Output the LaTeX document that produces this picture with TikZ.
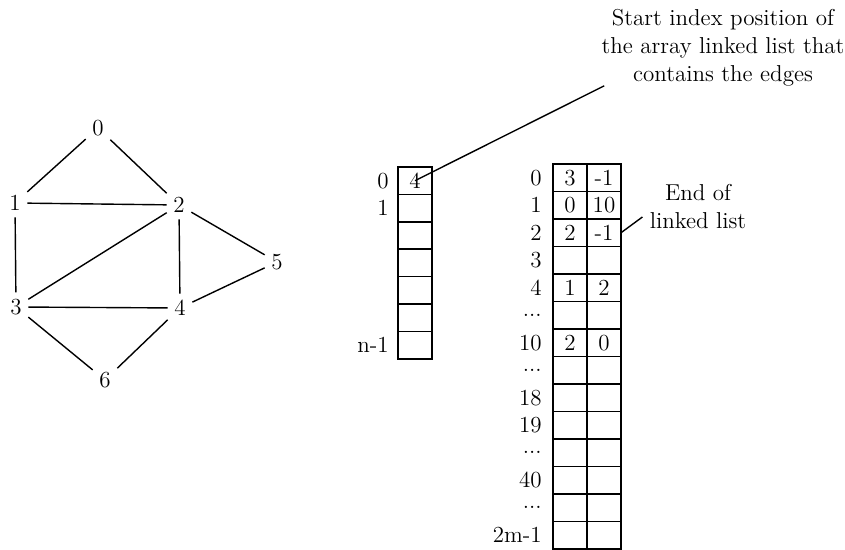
\documentclass[tikz,border=0pt]{standalone}
\usepackage{tikz}
\usetikzlibrary{positioning}
\newcommand{\skipdots}{...}

\begin{document}
\begin{tikzpicture}[
        x=0.5pt, y=-0.5pt, line width=0.7pt,
        every node/.style={font=\fontsize{11.5}{14}\selectfont},
        vertex/.style={inner sep=3pt},
        cell/.style={draw, minimum width=17pt, minimum height=13.75pt, inner sep=0pt, outer sep=0pt},
        note/.style={align=center}
    ]
    \useasboundingbox (0,0) rectangle (845,550);

    % graph
        \node[vertex] (v0) at (98,128) {0};
        \node[vertex] (v1) at (15,203) {1};
        \node[vertex] (v2) at (179,205) {2};
        \node[vertex] (v5) at (277,262) {5};
        \node[vertex] (v3) at (16,307) {3};
        \node[vertex] (v4) at (180,308) {4};
        \node[vertex] (v6) at (105,380) {6};

        \draw (v0) -- (v1);
        \draw (v0) -- (v2);
        \draw (v1) -- (v2);
        \draw (v1) -- (v3);
        \draw (v2) -- (v3);
        \draw (v2) -- (v4);
        \draw (v2) -- (v5);
        \draw (v3) -- (v4);
        \draw (v4) -- (v5);
        \draw (v3) -- (v6);
        \draw (v4) -- (v6);

    % start index array
        \foreach \i/\l in {0/0, 1/1, 2/{}, 3/{}, 4/{}, 5/{}, 6/n-1} {
            \node[cell] (a\i) at (415, 180.7+27.4*\i) {};
            \node[left=1pt of a\i] (la\i) {\l};
        }
        \node (start) at (a0) {4};

    % edge list array
        \foreach \i/\l/\p/\q in {0/0/3/-1, 1/1/0/10, 2/2/2/-1, 3/3/{}/{}, 4/4/1/2, 5/\skipdots/{}/{}, 6/10/2/0,
                                 7/\skipdots/{}/{}, 8/18/{}/{}, 9/19/{}/{}, 10/\skipdots/{}/{}, 11/40/{}/{}, 12/\skipdots/{}/{}, 13/2m-1/{}/{}} {
            \node[cell] (b\i) at (570, 177.75+27.5*\i) {\p};
            \node[cell, right=0pt of b\i] (c\i) {\q};
            \node[left=2pt of b\i] (lb\i) {\l};
        }

    % notes
        \node[note] (startnote) at (723,48) {Start index position of\\the array linked list that\\contains the edges};
        \node[note] (endnote) at (698,207) {End of\\linked list};

        \draw (start.center) -- ([xshift=5pt, yshift=4pt]startnote.south west);
        \draw (c2.east) -- ([yshift=-5pt]endnote.west);
    \end{tikzpicture}
\end{document}
